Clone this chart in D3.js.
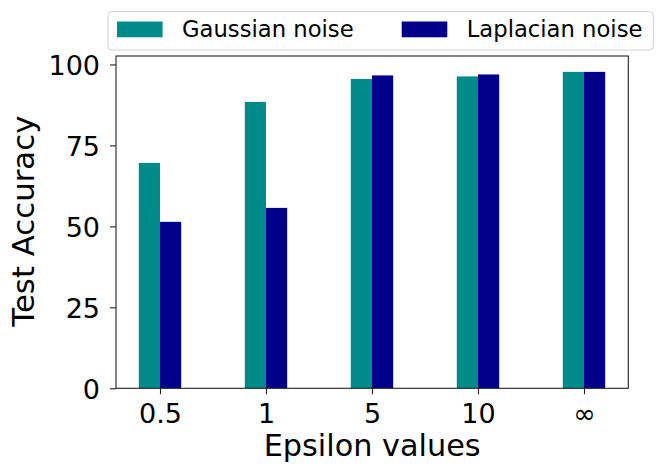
<!DOCTYPE html>
<html lang="en">
<head>
  <title>test accuracy vs epsilon</title>
  <script type="text/javascript" src="https://cdn.jsdelivr.net/npm/d3@7"></script>
  <style>
    body {
      margin: 0px;
      background: white;
    }
    svg {
      display: block;
      font-family: "DejaVu Sans", sans-serif;
    }
  </style>
</head>
<body>
  <script type="text/javascript">
    // Data
    var epsilons = ["0.5", "1", "5", "10", "\u221E"];
    var gaussian = [69.6, 88.4, 95.5, 96.3, 97.7];
    var laplacian = [51.4, 55.7, 96.6, 96.9, 97.7];
    var seriesNames = ["Gaussian noise", "Laplacian noise"];
    var seriesColors = ["#008b8b", "#00008b"];
    var yTicks = [0, 25, 50, 75, 100];

    var width = 664;
    var height = 476;
    // plot box (note: "top" is taken by window.top, so prefix these)
    var plotLeft = 116, plotRight = 628.3, plotTop = 56, plotBottom = 388.3;
    var barWidth = 0.2;

    var svg = d3.select("body").append("svg")
      .attr("width", width)
      .attr("height", height);

    svg.append("rect")
      .attr("width", width)
      .attr("height", height)
      .attr("fill", "white");

    var x = d3.scaleLinear().domain([-0.415, 4.418]).range([plotLeft, plotRight]);
    var y = d3.scaleLinear().domain([0, 102.6]).range([plotBottom, plotTop]);

    // Bars
    var series = [gaussian, laplacian];
    series.forEach(function (vals, s) {
      svg.append("g").selectAll("rect")
        .data(vals)
        .enter().append("rect")
        .attr("x", function (d, i) { return x(i + (s - 1) * barWidth); })
        .attr("y", function (d) { return y(d); })
        .attr("width", x(barWidth) - x(0))
        .attr("height", function (d) { return y(0) - y(d); })
        .attr("fill", seriesColors[s]);
    });

    // Axes
    var xAxis = d3.axisBottom(x)
      .tickValues(d3.range(epsilons.length))
      .tickFormat(function (d) { return epsilons[d]; })
      .tickSize(6).tickPadding(9);
    var yAxis = d3.axisLeft(y)
      .tickValues(yTicks)
      .tickSize(6).tickPadding(10);

    var gx = svg.append("g").attr("transform", "translate(0," + plotBottom + ")").call(xAxis);
    var gy = svg.append("g").attr("transform", "translate(" + plotLeft + ",0)").call(yAxis);
    [gx, gy].forEach(function (g) {
      g.select(".domain").remove();
      g.selectAll("line").attr("stroke", "#222").attr("stroke-width", 1.1);
      g.selectAll("text").attr("font-size", 27).attr("fill", "black")
        .attr("font-family", "DejaVu Sans");
    });
    gx.selectAll("text").attr("dy", "0.72em");
    gy.selectAll("text").attr("dy", "0.36em");

    // Frame
    svg.append("rect")
      .attr("x", plotLeft).attr("y", plotTop)
      .attr("width", plotRight - plotLeft).attr("height", plotBottom - plotTop)
      .attr("fill", "none").attr("stroke", "#222").attr("stroke-width", 1.1);

    // Axis labels
    svg.append("text")
      .attr("x", (plotLeft + plotRight) / 2)
      .attr("y", 456)
      .attr("text-anchor", "middle")
      .attr("font-size", 30.3)
      .text("Epsilon values");

    svg.append("text")
      .attr("transform", "translate(33.5," + ((plotTop + plotBottom) / 2 - 1) + ") rotate(-90)")
      .attr("text-anchor", "middle")
      .attr("font-size", 30.8)
      .text("Test Accuracy");

    // Legend
    var legend = svg.append("g");
    legend.append("rect")
      .attr("x", 108).attr("y", 11.5)
      .attr("width", 545.3).attr("height", 38.5)
      .attr("rx", 4)
      .attr("fill", "white").attr("stroke", "#d0d0d0").attr("stroke-width", 1);
    var legendX = [117, 401.7];
    seriesNames.forEach(function (name, s) {
      legend.append("rect")
        .attr("x", legendX[s]).attr("y", 21.5)
        .attr("width", 45.6).attr("height", 15.8)
        .attr("fill", seriesColors[s]);
      legend.append("text")
        .attr("x", legendX[s] + 65)
        .attr("y", 36.7)
        .attr("font-size", 22.7)
        .text(name);
    });
  </script>
</body>
</html>
